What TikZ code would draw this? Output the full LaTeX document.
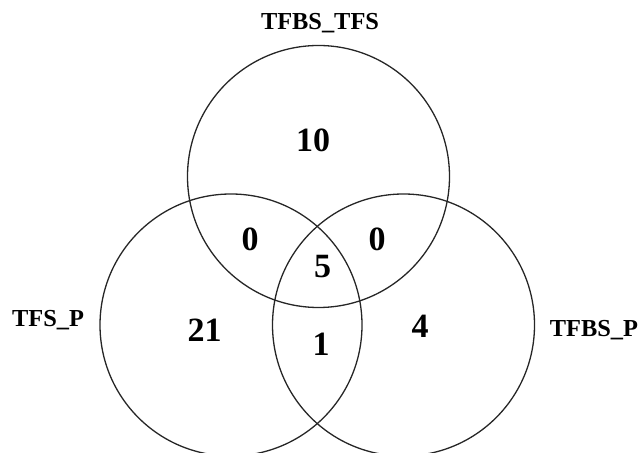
\documentclass[tikz,border=0pt]{standalone}
\usepackage{fontspec}
\setmainfont{Liberation Serif}
\usepackage{tikz}

\begin{document}
\begin{tikzpicture}[x=0.5pt, y=-0.5pt,
      set/.style={draw=black!85, circle, line width=0.65pt, minimum size=131pt, inner sep=0pt},
      lab/.style={font=\fontsize{12.2}{14}\selectfont\bfseries, inner sep=0pt},
      num/.style={font=\fontsize{17}{20}\selectfont\bfseries, inner sep=0pt}]
    \useasboundingbox (0,0) rectangle (641,453);
    % the three sets
    \node[set] (tt) at (318.5,176.5) {};
    \node[set] (tp) at (231,325) {};
    \node[set] (bp) at (403.5,325) {};
    % set names
    \node[lab] (ltt) at (320,23) {TFBS\_TFS};
    \node[lab] (ltp) at (48,320) {TFS\_P};
    \node[lab] (lbp) at (594,330) {TFBS\_P};
    % counts
    \node[num] (n10) at (313,140) {10};
    \node[num] (n0a) at (250,239) {0};
    \node[num] (n0b) at (377,239) {0};
    \node[num] (n5) at (322.5,267) {5};
    \node[num] (n21) at (204.5,330) {21};
    \node[num] (n1) at (321,344) {1};
    \node[num] (n4) at (420,326) {4};
\end{tikzpicture}
\end{document}
